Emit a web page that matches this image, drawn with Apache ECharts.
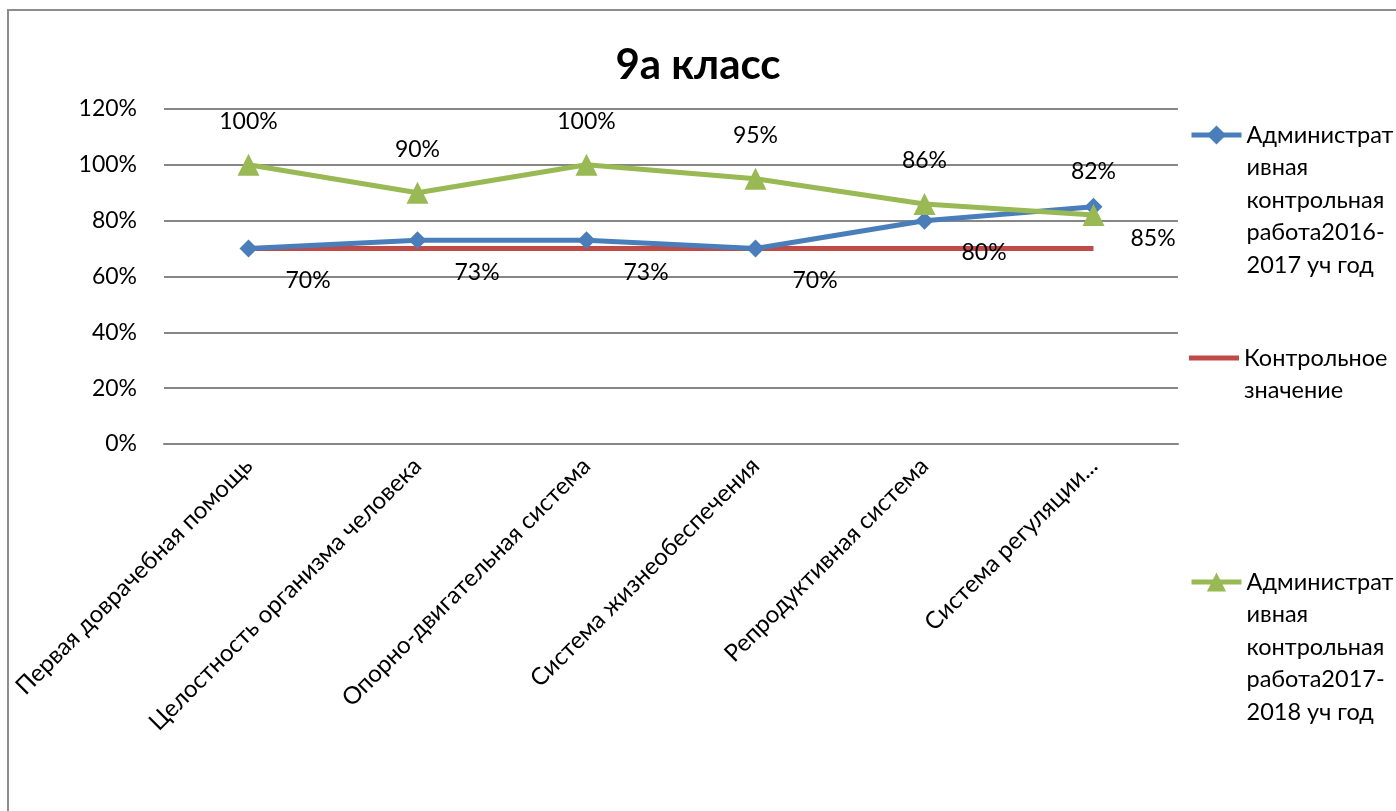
<!DOCTYPE html>
<html>
<head>
<meta charset="utf-8">
<script src="https://cdn.jsdelivr.net/npm/echarts@6/dist/echarts.min.js"></script>
<style>
  html, body { margin: 0; padding: 0; background: #fff; }
  #chart { width: 1396px; height: 811px; }
</style>
</head>
<body>
<div id="chart"></div>
<script>
// данные диаграммы
const categories = [
  'Первая доврачебная помощь',
  'Целостность организма человека',
  'Опорно-двигательная система',
  'Система жизнеобеспечения',
  'Репродуктивная система',
  'Система регуляции...'
];
const work2016 = [70, 73, 73, 70, 80, 85];
const controlValue = [70, 70, 70, 70, 70, 70];
const work2018 = [100, 90, 100, 95, 86, 82];
const yTicks = [0, 20, 40, 60, 80, 100, 120];

const seriesNames = [
  'Административная контрольная работа2016-2017 уч год',
  'Контрольное значение',
  'Административная контрольная работа2017-2018 уч год'
];
// переносы строк в легенде, как в исходнике
const legendLines = {
  [seriesNames[0]]: ['Администрат', 'ивная', 'контрольная', 'работа2016-', '2017 уч год'],
  [seriesNames[1]]: ['Контрольное', 'значение'],
  [seriesNames[2]]: ['Администрат', 'ивная', 'контрольная', 'работа2017-', '2018 уч год']
};

const FONT = 'Lato';
const BLUE = '#4A7EBB';
const RED = '#BE4B48';
const GREEN = '#98B954';
const LH = 32.5;

const chart = echarts.init(document.getElementById('chart'));

// легенда: пустые строки сверху, чтобы иконка стояла напротив первой строки
const makeLegend = (name, iconY, extra) => {
  const lines = legendLines[name];
  const pad = lines.length - 1;
  return {
    orient: 'vertical',
    left: 1184,
    top: iconY - (pad + 0.5) * LH,
    itemWidth: 50,
    itemHeight: 24,
    itemGap: 0,
    data: [Object.assign({ name: name }, extra || {})],
    formatter: n => '\n'.repeat(pad) + legendLines[n].join('\n'),
    lineStyle: { width: 5 },
    textStyle: {
      fontFamily: FONT,
      fontSize: 23.5,
      color: '#000',
      lineHeight: LH
    }
  };
};

chart.setOption({
  textStyle: { fontFamily: FONT },
  graphic: [{
    type: 'rect',
    shape: { x: 8, y: 10, width: 1500, height: 900 },
    style: { fill: 'none', stroke: '#8c8c8c', lineWidth: 2 },
    silent: true
  }],
  title: {
    text: '9а класс',
    left: 'center',
    top: 39,
    textStyle: { fontFamily: FONT, fontSize: 42, fontWeight: 'bold', color: '#000' }
  },
  legend: [
    makeLegend(seriesNames[0], 130),
    makeLegend(seriesNames[1], 353, {
      icon: 'path://M0,0 L50,0 L50,5 L0,5 Z',
      itemStyle: { color: RED }
    }),
    makeLegend(seriesNames[2], 577)
  ],
  grid: { left: 164, right: 218, top: 109, bottom: 367 },
  xAxis: {
    type: 'category',
    data: categories,
    boundaryGap: true,
    axisLine: { lineStyle: { color: '#868686', width: 2 } },
    axisTick: { show: false },
    axisLabel: {
      rotate: 45,
      margin: 18,
      fontFamily: FONT,
      fontSize: 24,
      color: '#000',
      interval: 0
    }
  },
  yAxis: {
    type: 'value',
    min: 0,
    max: 120,
    interval: 20,
    axisLine: { show: false },
    axisTick: { show: false },
    splitLine: { lineStyle: { color: '#868686', width: 2 } },
    axisLabel: {
      margin: 27,
      fontFamily: FONT,
      fontSize: 23,
      color: '#000',
      formatter: v => (yTicks.includes(v) ? v + '%' : '')
    }
  },
  series: [
    {
      name: seriesNames[0],
      type: 'line',
      data: work2016,
      symbol: 'diamond',
      symbolSize: 18,
      itemStyle: { color: BLUE },
      lineStyle: { color: BLUE, width: 5 },
      z: 3,
      label: {
        show: true,
        position: 'right',
        distance: 28,
        offset: [0, 32],
        fontFamily: FONT,
        fontSize: 23,
        color: '#000',
        formatter: p => p.value + '%'
      }
    },
    {
      name: seriesNames[1],
      type: 'line',
      data: controlValue,
      symbol: 'none',
      itemStyle: { color: RED },
      lineStyle: { color: RED, width: 5 },
      z: 2
    },
    {
      name: seriesNames[2],
      type: 'line',
      data: work2018,
      symbol: 'triangle',
      symbolSize: 22,
      itemStyle: { color: GREEN },
      lineStyle: { color: GREEN, width: 5 },
      z: 4,
      label: {
        show: true,
        position: 'top',
        distance: 21,
        fontFamily: FONT,
        fontSize: 23,
        color: '#000',
        formatter: p => p.value + '%'
      }
    }
  ]
});
</script>
</body>
</html>
